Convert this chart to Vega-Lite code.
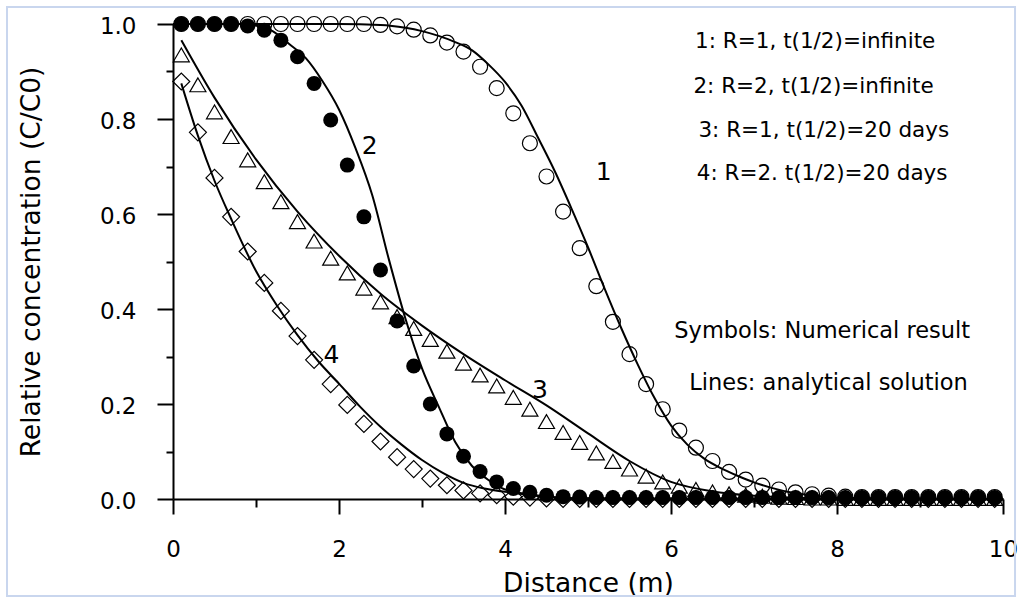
{
  "$schema": "https://vega.github.io/schema/vega-lite/v6.json",
  "width": 830,
  "height": 475,
  "autosize": {"type": "none"},
  "padding": {"left": 173, "top": 24, "right": 17, "bottom": 98},
  "background": "white",
  "config": {
    "view": {"stroke": null},
    "font": "DejaVu Sans",
    "axis": {
      "grid": false,
      "labelFlush": false,
      "domainColor": "black",
      "domainWidth": 2,
      "tickColor": "black",
      "tickWidth": 2,
      "labelColor": "black",
      "labelFont": "DejaVu Sans",
      "labelFontSize": 23,
      "titleColor": "black",
      "titleFont": "DejaVu Sans",
      "titleFontSize": 26.5,
      "titleFontWeight": "normal"
    }
  },
  "datasets": {
    "numerical": [
      {"x": 0.1, "c1": 1.0, "c2": 1.0, "c3": 0.935, "c4": 0.879},
      {"x": 0.3, "c1": 1.0, "c2": 1.0, "c3": 0.872, "c4": 0.772},
      {"x": 0.5, "c1": 1.0, "c2": 1.0, "c3": 0.815, "c4": 0.676},
      {"x": 0.7, "c1": 1.0, "c2": 1.0, "c3": 0.763, "c4": 0.594},
      {"x": 0.9, "c1": 1.0, "c2": 0.996, "c3": 0.714, "c4": 0.521},
      {"x": 1.1, "c1": 1.0, "c2": 0.987, "c3": 0.668, "c4": 0.455},
      {"x": 1.3, "c1": 1.0, "c2": 0.966, "c3": 0.626, "c4": 0.396},
      {"x": 1.5, "c1": 1.0, "c2": 0.931, "c3": 0.584, "c4": 0.343},
      {"x": 1.7, "c1": 1.0, "c2": 0.875, "c3": 0.543, "c4": 0.293},
      {"x": 1.9, "c1": 1.0, "c2": 0.798, "c3": 0.507, "c4": 0.242},
      {"x": 2.1, "c1": 1.0, "c2": 0.703, "c3": 0.476, "c4": 0.198},
      {"x": 2.3, "c1": 1.0, "c2": 0.594, "c3": 0.444, "c4": 0.158},
      {"x": 2.5, "c1": 0.998, "c2": 0.482, "c3": 0.415, "c4": 0.121},
      {"x": 2.7, "c1": 0.995, "c2": 0.375, "c3": 0.384, "c4": 0.088},
      {"x": 2.9, "c1": 0.988, "c2": 0.28, "c3": 0.359, "c4": 0.063},
      {"x": 3.1, "c1": 0.976, "c2": 0.2, "c3": 0.336, "c4": 0.043},
      {"x": 3.3, "c1": 0.961, "c2": 0.137, "c3": 0.311, "c4": 0.029},
      {"x": 3.5, "c1": 0.942, "c2": 0.09, "c3": 0.286, "c4": 0.018},
      {"x": 3.7, "c1": 0.91, "c2": 0.058, "c3": 0.261, "c4": 0.012},
      {"x": 3.9, "c1": 0.865, "c2": 0.036, "c3": 0.238, "c4": 0.008},
      {"x": 4.1, "c1": 0.812, "c2": 0.022, "c3": 0.214, "c4": 0.005},
      {"x": 4.3, "c1": 0.749, "c2": 0.014, "c3": 0.189, "c4": 0.003},
      {"x": 4.5, "c1": 0.679, "c2": 0.008, "c3": 0.163, "c4": 0.001},
      {"x": 4.7, "c1": 0.605, "c2": 0.005, "c3": 0.14, "c4": 0.0},
      {"x": 4.9, "c1": 0.528, "c2": 0.004, "c3": 0.119, "c4": 0.0},
      {"x": 5.1, "c1": 0.448, "c2": 0.003, "c3": 0.097, "c4": 0.0},
      {"x": 5.3, "c1": 0.373, "c2": 0.003, "c3": 0.079, "c4": 0.0},
      {"x": 5.5, "c1": 0.305, "c2": 0.003, "c3": 0.063, "c4": 0.0},
      {"x": 5.7, "c1": 0.242, "c2": 0.003, "c3": 0.048, "c4": 0.0},
      {"x": 5.9, "c1": 0.189, "c2": 0.003, "c3": 0.036, "c4": 0.0},
      {"x": 6.1, "c1": 0.144, "c2": 0.003, "c3": 0.027, "c4": 0.0},
      {"x": 6.3, "c1": 0.108, "c2": 0.003, "c3": 0.02, "c4": 0.0},
      {"x": 6.5, "c1": 0.08, "c2": 0.003, "c3": 0.015, "c4": 0.0},
      {"x": 6.7, "c1": 0.057, "c2": 0.003, "c3": 0.011, "c4": 0.0},
      {"x": 6.9, "c1": 0.041, "c2": 0.003, "c3": 0.008, "c4": 0.0},
      {"x": 7.1, "c1": 0.028, "c2": 0.003, "c3": 0.006, "c4": 0.0},
      {"x": 7.3, "c1": 0.02, "c2": 0.003, "c3": 0.004, "c4": 0.0},
      {"x": 7.5, "c1": 0.014, "c2": 0.003, "c3": 0.003, "c4": 0.0},
      {"x": 7.7, "c1": 0.01, "c2": 0.003, "c3": 0.002, "c4": 0.0},
      {"x": 7.9, "c1": 0.007, "c2": 0.003, "c3": 0.002, "c4": 0.0},
      {"x": 8.1, "c1": 0.005, "c2": 0.003, "c3": 0.001, "c4": 0.0},
      {"x": 8.3, "c1": 0.004, "c2": 0.003, "c3": 0.001, "c4": 0.0},
      {"x": 8.5, "c1": 0.004, "c2": 0.003, "c3": 0.001, "c4": 0.0},
      {"x": 8.7, "c1": 0.004, "c2": 0.003, "c3": 0.001, "c4": 0.0},
      {"x": 8.9, "c1": 0.004, "c2": 0.003, "c3": 0.001, "c4": 0.0},
      {"x": 9.1, "c1": 0.004, "c2": 0.003, "c3": 0.001, "c4": 0.0},
      {"x": 9.3, "c1": 0.004, "c2": 0.003, "c3": 0.001, "c4": 0.0},
      {"x": 9.5, "c1": 0.004, "c2": 0.003, "c3": 0.001, "c4": 0.0},
      {"x": 9.7, "c1": 0.004, "c2": 0.003, "c3": 0.001, "c4": 0.0},
      {"x": 9.9, "c1": 0.004, "c2": 0.003, "c3": 0.001, "c4": 0.0}
    ],
    "analytical": [
      {"series": "1", "x": 0, "y": 1.0},
      {"series": "1", "x": 1.0, "y": 1.0},
      {"series": "1", "x": 2.0, "y": 1.0},
      {"series": "1", "x": 2.5, "y": 0.998},
      {"series": "1", "x": 2.8, "y": 0.992},
      {"series": "1", "x": 3.0, "y": 0.985},
      {"series": "1", "x": 3.2, "y": 0.975},
      {"series": "1", "x": 3.4, "y": 0.962},
      {"series": "1", "x": 3.6, "y": 0.945},
      {"series": "1", "x": 3.8, "y": 0.915},
      {"series": "1", "x": 4.0, "y": 0.878},
      {"series": "1", "x": 4.2, "y": 0.828},
      {"series": "1", "x": 4.4, "y": 0.76},
      {"series": "1", "x": 4.6, "y": 0.69},
      {"series": "1", "x": 4.8, "y": 0.612},
      {"series": "1", "x": 5.0, "y": 0.53},
      {"series": "1", "x": 5.2, "y": 0.443},
      {"series": "1", "x": 5.4, "y": 0.36},
      {"series": "1", "x": 5.6, "y": 0.283},
      {"series": "1", "x": 5.8, "y": 0.213},
      {"series": "1", "x": 6.0, "y": 0.155},
      {"series": "1", "x": 6.2, "y": 0.114},
      {"series": "1", "x": 6.4, "y": 0.085},
      {"series": "1", "x": 6.6, "y": 0.065},
      {"series": "1", "x": 6.8, "y": 0.049},
      {"series": "1", "x": 7.0, "y": 0.035},
      {"series": "1", "x": 7.2, "y": 0.024},
      {"series": "1", "x": 7.5, "y": 0.012},
      {"series": "1", "x": 7.8, "y": 0.006},
      {"series": "1", "x": 8.2, "y": 0.002},
      {"series": "1", "x": 9.0, "y": 0.0},
      {"series": "1", "x": 10.0, "y": 0.0},
      {"series": "2", "x": 0, "y": 1.0},
      {"series": "2", "x": 0.8, "y": 1.0},
      {"series": "2", "x": 1.0, "y": 0.997},
      {"series": "2", "x": 1.2, "y": 0.985},
      {"series": "2", "x": 1.4, "y": 0.958},
      {"series": "2", "x": 1.6, "y": 0.928},
      {"series": "2", "x": 1.8, "y": 0.88},
      {"series": "2", "x": 2.0, "y": 0.82},
      {"series": "2", "x": 2.2, "y": 0.738},
      {"series": "2", "x": 2.4, "y": 0.64},
      {"series": "2", "x": 2.6, "y": 0.505},
      {"series": "2", "x": 2.8, "y": 0.38},
      {"series": "2", "x": 3.0, "y": 0.275},
      {"series": "2", "x": 3.2, "y": 0.195},
      {"series": "2", "x": 3.4, "y": 0.12},
      {"series": "2", "x": 3.6, "y": 0.07},
      {"series": "2", "x": 3.8, "y": 0.04},
      {"series": "2", "x": 4.0, "y": 0.02},
      {"series": "2", "x": 4.2, "y": 0.012},
      {"series": "2", "x": 4.5, "y": 0.005},
      {"series": "2", "x": 5.0, "y": 0.001},
      {"series": "2", "x": 6.0, "y": 0.0},
      {"series": "2", "x": 10.0, "y": 0.0},
      {"series": "3", "x": 0.1, "y": 0.966},
      {"series": "3", "x": 0.5, "y": 0.845},
      {"series": "3", "x": 1.0, "y": 0.715},
      {"series": "3", "x": 1.5, "y": 0.605},
      {"series": "3", "x": 2.0, "y": 0.512},
      {"series": "3", "x": 2.5, "y": 0.432},
      {"series": "3", "x": 3.0, "y": 0.365},
      {"series": "3", "x": 3.5, "y": 0.305},
      {"series": "3", "x": 4.0, "y": 0.25},
      {"series": "3", "x": 4.5, "y": 0.197},
      {"series": "3", "x": 5.0, "y": 0.138},
      {"series": "3", "x": 5.5, "y": 0.08},
      {"series": "3", "x": 6.0, "y": 0.036},
      {"series": "3", "x": 6.5, "y": 0.016},
      {"series": "3", "x": 7.0, "y": 0.007},
      {"series": "3", "x": 7.5, "y": 0.003},
      {"series": "3", "x": 8.0, "y": 0.001},
      {"series": "3", "x": 10.0, "y": 0.0},
      {"series": "4", "x": 0.1, "y": 0.875},
      {"series": "4", "x": 0.3, "y": 0.765},
      {"series": "4", "x": 0.5, "y": 0.67},
      {"series": "4", "x": 0.7, "y": 0.59},
      {"series": "4", "x": 1.0, "y": 0.48},
      {"series": "4", "x": 1.25, "y": 0.408},
      {"series": "4", "x": 1.5, "y": 0.345},
      {"series": "4", "x": 1.75, "y": 0.29},
      {"series": "4", "x": 2.0, "y": 0.243},
      {"series": "4", "x": 2.25, "y": 0.195},
      {"series": "4", "x": 2.5, "y": 0.152},
      {"series": "4", "x": 2.75, "y": 0.115},
      {"series": "4", "x": 3.0, "y": 0.082},
      {"series": "4", "x": 3.25, "y": 0.055},
      {"series": "4", "x": 3.5, "y": 0.034},
      {"series": "4", "x": 3.75, "y": 0.022},
      {"series": "4", "x": 4.0, "y": 0.015},
      {"series": "4", "x": 4.5, "y": 0.005},
      {"series": "4", "x": 5.0, "y": 0.001},
      {"series": "4", "x": 10.0, "y": 0.0}
    ],
    "curveLabels": [
      {"label": "1", "x": 5.19, "y": 0.688},
      {"label": "2", "x": 2.37, "y": 0.743},
      {"label": "3", "x": 4.42, "y": 0.229},
      {"label": "4", "x": 1.91, "y": 0.303}
    ],
    "notes": [
      {"text": "1: R=1, t(1/2)=infinite", "x": 6.29, "y": 0.949, "size": "legend"},
      {"text": "2: R=2, t(1/2)=infinite", "x": 6.27, "y": 0.855, "size": "legend"},
      {"text": "3: R=1, t(1/2)=20 days", "x": 6.33, "y": 0.762, "size": "legend"},
      {"text": "4: R=2. t(1/2)=20 days", "x": 6.31, "y": 0.672, "size": "legend"},
      {"text": "Symbols: Numerical result", "x": 6.04, "y": 0.339, "size": "note"},
      {"text": "Lines: analytical solution", "x": 6.22, "y": 0.229, "size": "note"}
    ]
  },
  "layer": [
    {
      "data": {"values": [{}]},
      "mark": {"type": "rect", "fill": null, "stroke": "#c9d6ee", "strokeWidth": 2, "clip": false},
      "encoding": {
        "x": {"datum": -2.0, "type": "quantitative", "scale": {"domain": [0, 10]}, "axis": null},
        "x2": {"datum": 10.145},
        "y": {"datum": 1.036, "type": "quantitative", "scale": {"domain": [0, 1]}, "axis": null},
        "y2": {"datum": -0.204}
      }
    },
    {
      "data": {"name": "analytical"},
      "mark": {"type": "line", "color": "black", "strokeWidth": 2, "interpolate": "monotone"},
      "encoding": {
        "x": {
          "field": "x", "type": "quantitative",
          "scale": {"domain": [0, 10], "nice": false, "zero": false},
          "axis": {
            "orient": "bottom", "values": [0, 2, 4, 6, 8, 10], "format": "d",
            "tickSize": 15, "labelPadding": 24.5, "title": "Distance (m)", "titlePadding": 8.5
          }
        },
        "y": {
          "field": "y", "type": "quantitative",
          "scale": {"domain": [0, 1], "nice": false},
          "axis": {
            "orient": "left", "values": [0, 0.2, 0.4, 0.6, 0.8, 1.0], "format": ".1f",
            "tickSize": 16, "labelPadding": 21, "labelOffset": 2,
            "title": "Relative concentration (C/C0)", "titlePadding": 54
          }
        },
        "detail": {"field": "series"}
      }
    },
    {
      "data": {"name": "numerical"},
      "transform": [
        {"fold": ["c1", "c3", "c4"], "as": ["series", "value"]}
      ],
      "mark": {"type": "point", "filled": false, "stroke": "black", "strokeWidth": 1.2, "opacity": 1},
      "encoding": {
        "x": {
          "field": "x", "type": "quantitative",
          "scale": {"domain": [0, 10], "nice": false, "zero": false},
          "axis": {
            "orient": "bottom", "values": [1, 3, 5, 7, 9], "labels": false,
            "domain": false, "tickSize": 8, "title": null
          }
        },
        "y": {
          "field": "value", "type": "quantitative",
          "scale": {"domain": [0, 1], "nice": false},
          "axis": {
            "orient": "left", "values": [0.1, 0.3, 0.5, 0.7, 0.9], "labels": false,
            "domain": false, "tickSize": 7, "title": null
          }
        },
        "shape": {
          "field": "series", "type": "nominal",
          "scale": {"domain": ["c1", "c3", "c4"], "range": ["circle", "triangle-up", "diamond"]},
          "legend": null
        },
        "size": {
          "field": "series", "type": "nominal",
          "scale": {"domain": ["c1", "c3", "c4"], "range": [225, 289, 289]},
          "legend": null
        }
      }
    },
    {
      "data": {"name": "numerical"},
      "mark": {"type": "point", "shape": "circle", "filled": true, "color": "black", "opacity": 1, "size": 225},
      "encoding": {
        "x": {"field": "x", "type": "quantitative", "scale": {"domain": [0, 10]}, "axis": null},
        "y": {"field": "c2", "type": "quantitative", "scale": {"domain": [0, 1]}, "axis": null}
      }
    },
    {
      "data": {"name": "curveLabels"},
      "mark": {"type": "text", "font": "DejaVu Sans", "fontSize": 25, "color": "black", "align": "center", "baseline": "middle"},
      "encoding": {
        "x": {"field": "x", "type": "quantitative", "scale": {"domain": [0, 10]}, "axis": null},
        "y": {"field": "y", "type": "quantitative", "scale": {"domain": [0, 1]}, "axis": null},
        "text": {"field": "label"}
      }
    },
    {
      "data": {"name": "notes"},
      "transform": [{"filter": "datum.size === 'legend'"}],
      "mark": {"type": "text", "font": "DejaVu Sans", "fontSize": 21.5, "color": "black", "align": "left", "baseline": "alphabetic"},
      "encoding": {
        "x": {"field": "x", "type": "quantitative", "scale": {"domain": [0, 10]}, "axis": null},
        "y": {"field": "y", "type": "quantitative", "scale": {"domain": [0, 1]}, "axis": null},
        "text": {"field": "text"}
      }
    },
    {
      "data": {"name": "notes"},
      "transform": [{"filter": "datum.size === 'note'"}],
      "mark": {"type": "text", "font": "DejaVu Sans", "fontSize": 22.5, "color": "black", "align": "left", "baseline": "alphabetic"},
      "encoding": {
        "x": {"field": "x", "type": "quantitative", "scale": {"domain": [0, 10]}, "axis": null},
        "y": {"field": "y", "type": "quantitative", "scale": {"domain": [0, 1]}, "axis": null},
        "text": {"field": "text"}
      }
    }
  ],
  "resolve": {"axis": {"x": "independent", "y": "independent"}}
}
